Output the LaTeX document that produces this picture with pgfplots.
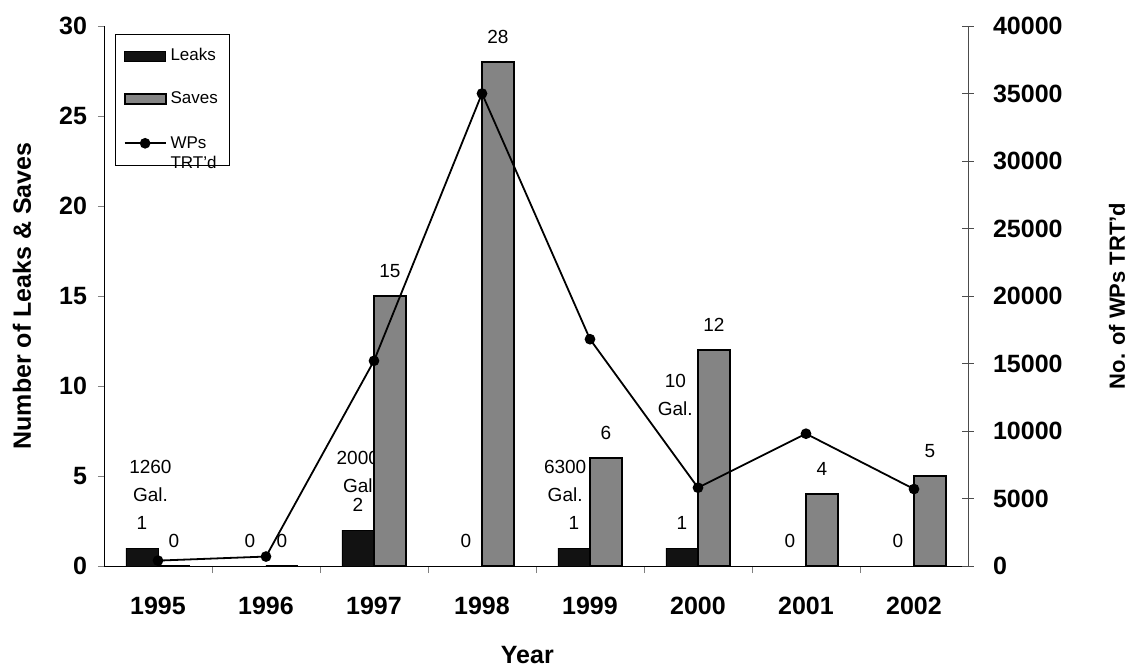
\documentclass[border=0pt]{standalone}
\usepackage{fontspec}
\setmainfont{Liberation Sans}
\usepackage{pgfplots}
\usepackage{pgfplotstable}
\pgfplotsset{compat=1.18}

\definecolor{leakc}{RGB}{18,18,18}
\definecolor{savec}{RGB}{132,132,132}

\pgfplotsset{
	box legend/.style={legend image code/.code={\draw[##1] (0pt,-2.5pt) rectangle (20.5pt,2.5pt);}},
	dot legend/.style={legend image code/.code={\draw[##1, mark repeat=2, mark phase=2]
		plot coordinates {(0pt,0pt) (10.25pt,0pt) (20.5pt,0pt)};}},
}

% year index, leaks, saves, work packages treated
\pgfplotstableread{
x leaks saves wps
0 1 0  400
1 0 0  700
2 2 15 15200
3 0 28 35000
4 1 6  16800
5 1 12 5800
6 0 4  9800
7 0 5  5700
}\datatable

\begin{document}
\begin{tikzpicture}
\path[use as bounding box] (-52pt,-52pt) rectangle (513pt,283pt);

\begin{axis}[
	scale only axis,
	width=432pt, height=270pt,
	xmin=-0.5, xmax=7.5,
	ymin=0, ymax=30,
	axis x line*=bottom,
	axis y line*=left,
	xtick={0,...,7},
	xticklabels={1995,1996,1997,1998,1999,2000,2001,2002},
	major x tick style={draw=none},
	minor xtick={0.5,1.5,...,6.5},
	ytick={0,5,...,30},
	tick align=outside,
	major tick length=3pt, minor tick length=3.5pt,
	tick label style={font=\bfseries\fontsize{12.5}{15}\selectfont},
	/pgf/number format/assume math mode=true,
	xticklabel style={anchor=base, yshift=-21pt},
	yticklabel style={xshift=-2pt},
	xlabel={Year},
	ylabel={Number of Leaks \& Saves},
	label style={font=\bfseries\fontsize{12.5}{15}\selectfont},
	xlabel style={at={(axis description cs:0.49,0)}, anchor=base, yshift=-48.5pt},
	ylabel style={at={(axis description cs:-0.095,0.5)}, anchor=center},
	bar width=16pt,
	nodes near coords,
	every node near coord/.append style={font=\fontsize{9.5}{11}\selectfont, yshift=5.5pt},
	legend cell align=left,
	legend style={at={(axis description cs:0.013,0.985)}, anchor=north west,
		draw=black, line width=0.5pt, font=\fontsize{8.5}{10}\selectfont,
		row sep=10pt, inner xsep=4pt, inner ysep=5pt},
]
\addplot[ybar, bar shift=-8pt, fill=leakc, draw=black, box legend,
	every node near coord/.append style={xshift=-8pt}]
	table[x=x, y=leaks] {\datatable};
\addlegendentry{Leaks}

\begin{scope}[font=\fontsize{9.5}{14}\selectfont]
\node[align=center] at (axis cs:-0.07,4.7) {1260\\Gal.};
\node[align=center] at (axis cs:1.85,5.2) {2000\\Gal};
\node[align=center] at (axis cs:3.77,4.7) {6300\\Gal.};
\node[align=center] at (axis cs:4.79,9.5) {10\\Gal.};
\end{scope}

\addplot[ybar, bar shift=8pt, fill=savec, draw=black, line width=0.9pt, box legend,
	every node near coord/.append style={xshift=8pt}]
	table[x=x, y=saves] {\datatable};
\addlegendentry{Saves}

\addlegendimage{black, line width=0.9pt, mark=*, mark size=2.2pt, dot legend}
\addlegendentry{\begin{tabular}[t]{@{}l@{}}WPs\\TRT'd\end{tabular}}
\end{axis}

\begin{axis}[
	scale only axis,
	width=432pt, height=270pt,
	xmin=-0.5, xmax=7.5,
	ymin=0, ymax=40000,
	axis x line=none,
	axis y line*=right,
	y axis line style={draw=black!70},
	ytick={0,5000,...,40000},
	scaled y ticks=false,
	/pgf/number format/1000 sep={},
	/pgf/number format/assume math mode=true,
	tick align=center,
	major tick length=6pt,
	tick style={black!70},
	tick label style={font=\bfseries\fontsize{12.5}{15}\selectfont},
	yticklabel style={xshift=6pt},
	ylabel={No. of WPs TRT'd},
	ylabel style={font=\bfseries\fontsize{11}{13}\selectfont,
		at={(axis description cs:1.1725,0.5)}, anchor=center},
]
\addplot[black, line width=0.9pt, mark=*, mark size=2.2pt]
	table[x=x, y=wps] {\datatable};
\end{axis}
\end{tikzpicture}
\end{document}
